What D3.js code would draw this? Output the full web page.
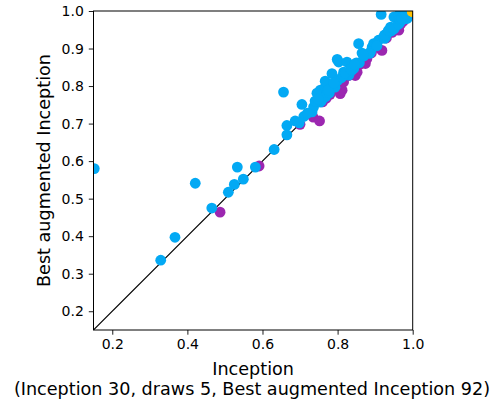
<!DOCTYPE html>
<html>
<head>
<meta charset="utf-8">
<script src="https://cdn.jsdelivr.net/npm/d3@7"></script>
<style>
  body { margin: 0; background: #fff; }
  svg { font-family: "DejaVu Sans", sans-serif; }
</style>
</head>
<body>
<div id="chart"></div>
<script>
// Inception better (below the diagonal)
const purpleX = [0.487, 0.591, 0.735, 0.752, 0.807, 0.812, 0.852, 0.874, 0.878, 0.918,
  0.963, 0.847, 0.967, 0.816, 0.700, 0.760, 0.770, 0.780, 0.795, 0.830,
  0.840, 0.860, 0.890, 0.905, 0.930, 0.945, 0.955, 0.975, 0.985, 0.990];
const purpleY = [0.464, 0.587, 0.717, 0.707, 0.780, 0.789, 0.837, 0.860, 0.873, 0.895,
  0.949, 0.828, 0.964, 0.811, 0.698, 0.758, 0.768, 0.778, 0.793, 0.828,
  0.838, 0.858, 0.888, 0.903, 0.928, 0.943, 0.953, 0.973, 0.983, 0.988];

// Best augmented Inception better (above the diagonal)
const blueX = [0.152, 0.329, 0.367, 0.421, 0.465, 0.509, 0.525, 0.533, 0.549, 0.581,
  0.631, 0.656, 0.665, 0.665, 0.687, 0.705, 0.710, 0.732, 0.736, 0.745,
  0.754, 0.754, 0.767, 0.767, 0.772, 0.785, 0.785, 0.789, 0.799, 0.803,
  0.816, 0.825, 0.830, 0.839, 0.843, 0.856, 0.865, 0.896, 0.892, 0.909,
  0.916, 0.923, 0.932, 0.941, 0.950, 0.963, 0.965, 0.975, 0.985,
  0.698, 0.758, 0.768, 0.778, 0.793, 0.828, 0.838, 0.858, 0.888, 0.903,
  0.928, 0.943, 0.953, 0.973, 0.983, 0.988,
  0.740, 0.748, 0.775, 0.800, 0.810, 0.815, 0.820, 0.835, 0.850, 0.870,
  0.885, 0.905, 0.925, 0.925, 0.935, 0.950, 0.962, 0.965, 0.970, 0.978,
  0.982, 0.992, 0.995, 0.720, 0.790, 0.845, 0.868];
const blueY = [0.580, 0.336, 0.397, 0.541, 0.475, 0.517, 0.538, 0.584, 0.552, 0.584,
  0.631, 0.784, 0.670, 0.695, 0.707, 0.751, 0.719, 0.731, 0.744, 0.781,
  0.757, 0.789, 0.797, 0.813, 0.780, 0.833, 0.797, 0.806, 0.871, 0.864,
  0.837, 0.864, 0.829, 0.855, 0.847, 0.913, 0.888, 0.913, 0.904, 0.922,
  0.991, 0.931, 0.940, 0.957, 0.984, 0.989, 0.968, 0.984, 0.980,
  0.702, 0.762, 0.772, 0.782, 0.797, 0.832, 0.842, 0.862, 0.892, 0.907,
  0.932, 0.947, 0.957, 0.977, 0.987, 0.992,
  0.760, 0.765, 0.790, 0.815, 0.822, 0.828, 0.835, 0.845, 0.862, 0.880,
  0.887, 0.908, 0.927, 0.936, 0.948, 0.952, 0.965, 0.978, 0.980, 0.988,
  0.992, 0.998, 1.000, 0.728, 0.808, 0.858, 0.884];

// draws
const drawX = [1.0, 1.0, 1.0, 0.999, 0.999];
const drawY = [1.0, 1.0, 1.0, 0.999, 0.999];

const xTicks = [0.2, 0.4, 0.6, 0.8, 1.0];
const yTicks = [0.2, 0.3, 0.4, 0.5, 0.6, 0.7, 0.8, 0.9, 1.0];

const svgWidth = 496, svgHeight = 403;
const margin = { top: 11, left: 93.5, width: 319.2, height: 319 };

const svg = d3.select("#chart").append("svg")
  .attr("width", svgWidth)
  .attr("height", svgHeight);

const x = d3.scaleLinear().domain([0.15, 1.0]).range([margin.left, margin.left + margin.width]);
const y = d3.scaleLinear().domain([0.15, 1.0]).range([margin.top + margin.height, margin.top]);

svg.append("clipPath").attr("id", "clip")
  .append("rect")
  .attr("x", margin.left).attr("y", margin.top)
  .attr("width", margin.width).attr("height", margin.height);

const plot = svg.append("g").attr("clip-path", "url(#clip)");

// identity line
plot.append("line")
  .attr("x1", x(0.15)).attr("y1", y(0.15))
  .attr("x2", x(1.0)).attr("y2", y(1.0))
  .attr("stroke", "#000").attr("stroke-width", 1.1);

function dots(xs, ys, color) {
  plot.append("g").selectAll("circle")
    .data(xs.map((v, i) => [v, ys[i]]))
    .enter().append("circle")
    .attr("cx", d => x(d[0]))
    .attr("cy", d => y(d[1]))
    .attr("r", 5.4)
    .attr("fill", color);
}
dots(purpleX, purpleY, "#9c27b0");
dots(blueX, blueY, "#03a9f4");
dots(drawX, drawY, "#ffc107");

// axes
const xAxis = svg.append("g")
  .attr("transform", `translate(0,${margin.top + margin.height})`)
  .call(d3.axisBottom(x).tickValues(xTicks).tickFormat(d3.format(".1f")).tickSizeOuter(0).tickSize(4.7).tickPadding(4.5));
const yAxis = svg.append("g")
  .attr("transform", `translate(${margin.left},0)`)
  .call(d3.axisLeft(y).tickValues(yTicks).tickFormat(d3.format(".1f")).tickSizeOuter(0).tickSize(4.7).tickPadding(5));
[xAxis, yAxis].forEach(a => {
  a.selectAll("text").attr("font-size", 14).attr("font-family", "DejaVu Sans").attr("fill", "#000");
  a.selectAll("line").attr("stroke", "#000").attr("stroke-width", 0.9);
  a.select(".domain").remove();
});

// frame
svg.append("rect")
  .attr("x", margin.left).attr("y", margin.top)
  .attr("width", margin.width).attr("height", margin.height)
  .attr("fill", "none").attr("stroke", "#000").attr("stroke-width", 1);

// labels
svg.append("text")
  .attr("x", margin.left + margin.width / 2).attr("y", 375)
  .attr("text-anchor", "middle").attr("font-size", 17.6)
  .text("Inception");
svg.append("text")
  .attr("x", 252).attr("y", 394.5)
  .attr("text-anchor", "middle").attr("font-size", 17.6)
  .text("(Inception 30, draws 5, Best augmented Inception 92)");
svg.append("text")
  .attr("transform", `translate(49.5,${margin.top + margin.height / 2}) rotate(-90)`)
  .attr("text-anchor", "middle").attr("font-size", 17.6)
  .text("Best augmented Inception");
</script>
</body>
</html>
